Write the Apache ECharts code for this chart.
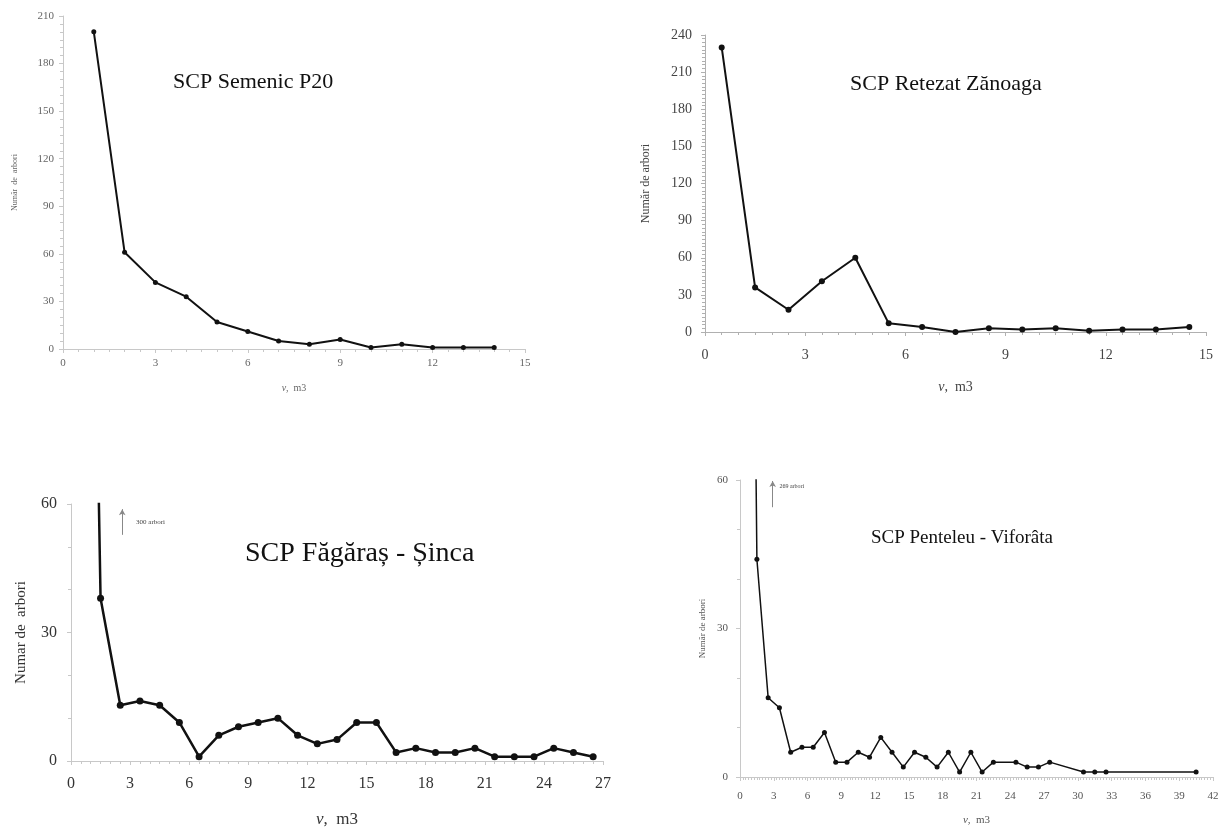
<!DOCTYPE html>
<html>
<head>
<meta charset="utf-8">
<script src="https://cdn.jsdelivr.net/npm/echarts@6/dist/echarts.min.js"></script>
<style>
  html, body { margin: 0; padding: 0; background: #fff; }
  #chart { width: 1225px; height: 829px; }
</style>
</head>
<body>
<div id="chart"></div>
<script>
// SCP Semenic P20
const semenicV = [1, 2, 3, 4, 5, 6, 7, 8, 9, 10, 11, 12, 13, 14];
const semenicN = [200, 61, 42, 33, 17, 11, 5, 3, 6, 1, 3, 1, 1, 1];

// SCP Retezat Zănoaga
const retezatV = [0.5, 1.5, 2.5, 3.5, 4.5, 5.5, 6.5, 7.5, 8.5, 9.5, 10.5, 11.5, 12.5, 13.5, 14.5];
const retezatN = [230, 36, 18, 41, 60, 7, 4, 0, 3, 2, 3, 1, 2, 2, 4];

// SCP Făgăraș - Șinca (prima clasă: 300 arbori, în afara scării)
const fagarasV = [0.5, 1.5, 2.5, 3.5, 4.5, 5.5, 6.5, 7.5, 8.5, 9.5, 10.5, 11.5, 12.5, 13.5,
  14.5, 15.5, 16.5, 17.5, 18.5, 19.5, 20.5, 21.5, 22.5, 23.5, 24.5, 25.5, 26.5];
const fagarasN = [300, 38, 13, 14, 13, 9, 1, 6, 8, 9, 10, 6, 4, 5,
  9, 9, 2, 3, 2, 2, 3, 1, 1, 1, 3, 2, 1];

// SCP Penteleu - Viforâta (prima clasă: 269 arbori)
const penteleuV = [0.5, 1.5, 2.5, 3.5, 4.5, 5.5, 6.5, 7.5, 8.5, 9.5, 10.5, 11.5, 12.5, 13.5, 14.5,
  15.5, 16.5, 17.5, 18.5, 19.5, 20.5, 21.5, 22.5, 24.5, 25.5, 26.5, 27.5, 30.5, 31.5, 32.5, 40.5];
const penteleuN = [269, 44, 16, 14, 5, 6, 6, 9, 3, 3, 5, 4, 8, 5, 2,
  5, 4, 2, 5, 1, 5, 1, 3, 3, 2, 2, 3, 1, 1, 1, 1];

// adnotări: [x, y jos, y sus], [x text, y text, text]
const fagarasArrow = [2.6, 52.8, 58.8];
const fagarasNote = [3.3, 55.8, '300 arbori'];
const penteleuArrow = [2.9, 54.5, 59.8];
const penteleuNote = [3.5, 58.8, '269 arbori'];

const titles = ['SCP Semenic P20', 'SCP Retezat Zănoaga', 'SCP Făgăraș - Șinca', 'SCP Penteleu - Viforâta'];
const yName = ['Număr  de  arbori', 'Număr de arbori', 'Numar de  arbori', 'Număr de arbori'];

const serif = '"Liberation Serif", "Times New Roman", serif';

const zip = (xs, ys) => xs.map((x, i) => [x, ys[i]]);

// aspect per panou (din imagine)
const panels = [
  { grid: { left: 63, top: 16, width: 462, height: 333 }, xMax: 15, yMax: 210, yInt: 30,
    axisColor: '#c8c8c8', labelColor: '#666', labelSize: 11, nameSize: 8, yGap: 44, xGap: 34,
    xMinor: 6, yMinor: 6, lineW: 2, sym: 5, xMargin: 9, yMargin: 9 },
  { grid: { left: 705, top: 35, width: 501, height: 297 }, xMax: 15, yMax: 240, yInt: 30,
    axisColor: '#b0b0b0', labelColor: '#444', labelSize: 14, nameSize: 12, yGap: 53, xGap: 48,
    xMinor: 6, yMinor: 10, lineW: 2, sym: 6, xMargin: 16, yMargin: 13 },
  { grid: { left: 71, top: 504, width: 532, height: 259 }, xMax: 27, yMax: 60, yInt: 30,
    axisColor: '#c8c8c8', labelColor: '#333', labelSize: 16, nameSize: 15, yGap: 42, xGap: 50,
    xMinor: 6, yMinor: 3, lineW: 2.5, sym: 7, xMargin: 15, yMargin: 14 },
  { grid: { left: 740, top: 480, width: 473, height: 297 }, xMax: 42, yMax: 60, yInt: 30,
    axisColor: '#c8c8c8', labelColor: '#555', labelSize: 11, nameSize: 9, yGap: 33, xGap: 38,
    xMinor: 12, yMinor: 3, lineW: 1.5, sym: 5, xMargin: 14, yMargin: 12 }
];

const titlePos = [
  { left: 168, top: 66, fontSize: 22 },
  { left: 845, top: 68, fontSize: 22 },
  { left: 240, top: 535, fontSize: 28 },
  { left: 866, top: 524, fontSize: 19 }
];

const seriesData = [
  zip(semenicV, semenicN),
  zip(retezatV, retezatN),
  zip(fagarasV, fagarasN),
  zip(penteleuV, penteleuN)
];

const chart = echarts.init(document.getElementById('chart'));

const option = {
  animation: false,
  backgroundColor: '#fff',
  title: titles.map((t, i) => ({
    text: t,
    left: titlePos[i].left,
    top: titlePos[i].top,
    textStyle: { fontFamily: serif, fontWeight: 'normal', fontSize: titlePos[i].fontSize, color: '#111' }
  })),
  grid: panels.map(p => p.grid),
  xAxis: panels.map((p, i) => ({
    type: 'value',
    gridIndex: i,
    min: 0,
    max: p.xMax,
    interval: 3,
    name: '{i|v},  m3',
    nameLocation: 'middle',
    nameGap: p.xGap,
    nameTextStyle: {
      fontFamily: serif, fontSize: p.nameSize + 2, color: p.labelColor,
      rich: { i: { fontFamily: serif, fontStyle: 'italic', fontSize: p.nameSize + 2, color: p.labelColor } }
    },
    axisLine: { lineStyle: { color: p.axisColor, width: 1 } },
    axisTick: { show: true, inside: false, length: 4, lineStyle: { color: p.axisColor } },
    minorTick: { show: true, splitNumber: p.xMinor, length: 3, lineStyle: { color: p.axisColor } },
    axisLabel: { fontFamily: serif, fontSize: p.labelSize, color: p.labelColor, margin: p.xMargin },
    splitLine: { show: false }
  })),
  yAxis: panels.map((p, i) => ({
    type: 'value',
    gridIndex: i,
    min: 0,
    max: p.yMax,
    interval: p.yInt,
    name: yName[i],
    nameLocation: 'middle',
    nameRotate: 90,
    nameGap: p.yGap,
    nameTextStyle: { fontFamily: serif, fontSize: p.nameSize, color: p.labelColor },
    axisLine: { show: true, lineStyle: { color: p.axisColor, width: 1 } },
    axisTick: { show: true, length: 4, lineStyle: { color: p.axisColor } },
    minorTick: { show: true, splitNumber: p.yMinor, length: 3, lineStyle: { color: p.axisColor } },
    axisLabel: { fontFamily: serif, fontSize: p.labelSize, color: p.labelColor, margin: p.yMargin },
    splitLine: { show: false }
  })),
  series: panels.map((p, i) => ({
    type: 'line',
    xAxisIndex: i,
    yAxisIndex: i,
    data: seriesData[i],
    clip: true,
    symbol: 'circle',
    symbolSize: p.sym,
    showAllSymbol: true,
    lineStyle: { color: '#111', width: p.lineW },
    itemStyle: { color: '#111' }
  }))
};

// săgeți + text pentru clasele ieșite din scară
[[2, fagarasArrow, fagarasNote, 7], [3, penteleuArrow, penteleuNote, 6]].forEach(([idx, arrow, note, fs]) => {
  const s = option.series[idx];
  s.markLine = {
    silent: true,
    symbol: ['none', 'arrow'],
    symbolSize: [5, 6],
    label: { show: false },
    lineStyle: { color: '#888', width: 1, type: 'solid' },
    data: [[{ coord: [arrow[0], arrow[1]] }, { coord: [arrow[0], arrow[2]] }]]
  };
  s.markPoint = {
    silent: true,
    symbol: 'circle',
    symbolSize: 0,
    label: { show: true, position: 'right', distance: 0, formatter: note[2], fontFamily: serif, fontSize: fs, color: '#444' },
    data: [{ coord: [note[0], note[1]] }]
  };
});

chart.setOption(option);
</script>
</body>
</html>
